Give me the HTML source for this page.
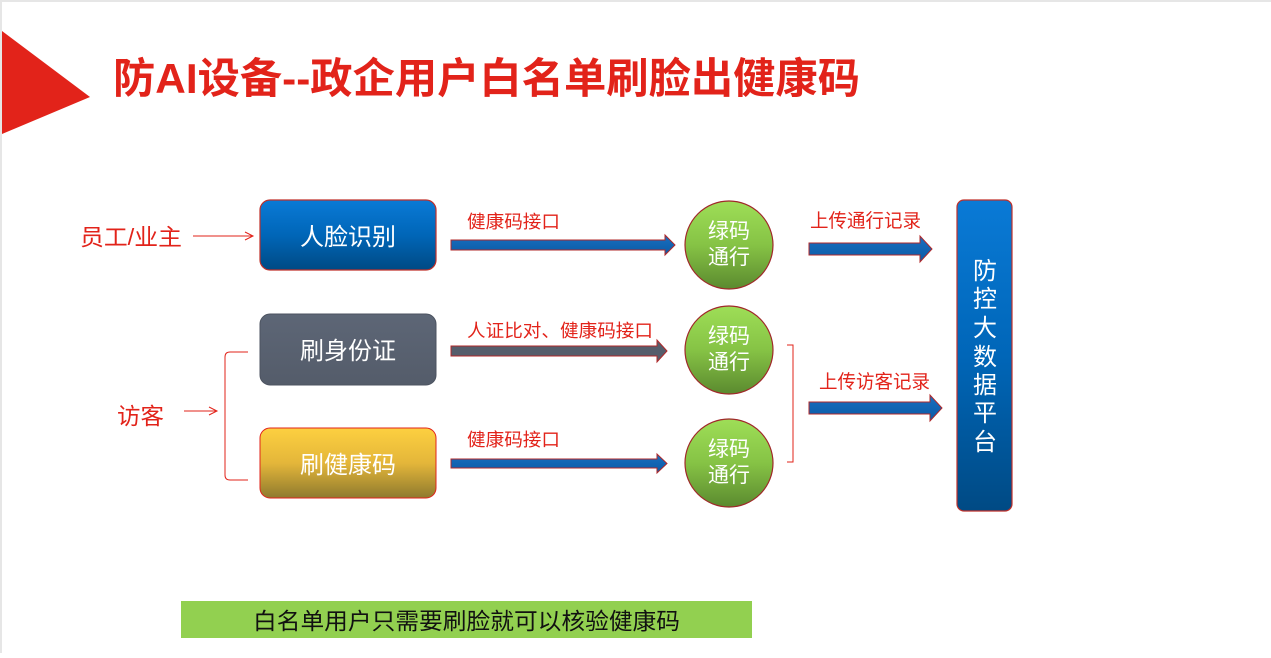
<!DOCTYPE html>
<html><head><meta charset="utf-8"><style>
html,body{margin:0;padding:0;background:#fff;}
svg text{font-family:"Liberation Sans","Noto Sans CJK SC",sans-serif;}
</style></head><body>
<svg width="1271" height="653" viewBox="0 0 1271 653" xmlns="http://www.w3.org/2000/svg">
<defs>
<linearGradient id="blue" x1="0" y1="0" x2="0" y2="1"><stop offset="0" stop-color="#0a7ad6"/><stop offset="0.5" stop-color="#0066b8"/><stop offset="1" stop-color="#004a84"/></linearGradient>
<linearGradient id="gray" x1="0" y1="0" x2="0" y2="1"><stop offset="0" stop-color="#5d6676"/><stop offset="1" stop-color="#545c6a"/></linearGradient>
<linearGradient id="yel" x1="0" y1="0" x2="0" y2="1"><stop offset="0" stop-color="#fdd040"/><stop offset="0.5" stop-color="#e4b63a"/><stop offset="1" stop-color="#8e7a2e"/></linearGradient>
<linearGradient id="grn" x1="0" y1="0" x2="0" y2="1"><stop offset="0" stop-color="#9ede57"/><stop offset="0.5" stop-color="#86c345"/><stop offset="1" stop-color="#5b8a2f"/></linearGradient>
<linearGradient id="arr" x1="0" y1="0" x2="0" y2="1"><stop offset="0" stop-color="#1a6fc0"/><stop offset="1" stop-color="#0b5aa5"/></linearGradient>
</defs>
<rect x="0" y="0" width="1271" height="2" fill="#e6e6e6"/>
<rect x="0" y="0" width="2" height="653" fill="#e6e6e6"/>
<polygon points="2,31 90,97 2,134" fill="#e2231a"/>
<text x="113" y="93" font-size="42" font-weight="bold" fill="#e2231a" textLength="747" lengthAdjust="spacingAndGlyphs">防AI设备--政企用户白名单刷脸出健康码</text>

<text x="80" y="245" font-size="23" fill="#e2231a" textLength="102" lengthAdjust="spacingAndGlyphs">员工/业主</text>
<line x1="193" y1="236" x2="252" y2="236" stroke="#e2231a" stroke-width="1"/>
<polyline points="245,232 253,236 245,240" fill="none" stroke="#e2231a" stroke-width="1"/>
<text x="117" y="424" font-size="23" fill="#e2231a" textLength="47" lengthAdjust="spacingAndGlyphs">访客</text>
<line x1="184" y1="411" x2="216" y2="411" stroke="#e2231a" stroke-width="1"/>
<polyline points="209,407 217,411 209,415" fill="none" stroke="#e2231a" stroke-width="1"/>
<path d="M248,352 L230,352 Q225,352 225,357 L225,475 Q225,480 230,480 L248,480" fill="none" stroke="#e2231a" stroke-width="1"/>

<rect x="260" y="200" width="176" height="70" rx="10" fill="url(#blue)" stroke="#c0302a" stroke-width="1.2"/>
<text x="300" y="245" font-size="24" fill="#fff" textLength="96" lengthAdjust="spacingAndGlyphs">人脸识别</text>
<rect x="260" y="314" width="176" height="71" rx="10" fill="url(#gray)" stroke="#4c5360" stroke-width="1"/>
<text x="300" y="359" font-size="24" fill="#fff" textLength="96" lengthAdjust="spacingAndGlyphs">刷身份证</text>
<rect x="260" y="428" width="176" height="70" rx="10" fill="url(#yel)" stroke="#e2231a" stroke-width="1"/>
<text x="300" y="473" font-size="24" fill="#fff" textLength="96" lengthAdjust="spacingAndGlyphs">刷健康码</text>

<text x="467" y="228" font-size="18" fill="#e2231a" textLength="93" lengthAdjust="spacingAndGlyphs">健康码接口</text>
<polygon points="451,240 665,240 665,235 675,245 665,255 665,250 451,250" fill="url(#arr)" stroke="#b0282a" stroke-width="1"/>
<text x="467" y="337" font-size="18" fill="#e2231a" textLength="186" lengthAdjust="spacingAndGlyphs">人证比对、健康码接口</text>
<polygon points="451,346 657,346 657,340 667,351 657,362 657,356 451,356" fill="#555d6b" stroke="#b0282a" stroke-width="1"/>
<text x="467" y="446" font-size="18" fill="#e2231a" textLength="93" lengthAdjust="spacingAndGlyphs">健康码接口</text>
<polygon points="451,459 657,459 657,454 667,463.5 657,473 657,468 451,468" fill="url(#arr)" stroke="#b0282a" stroke-width="1"/>

<g font-size="21" fill="#fff" text-anchor="middle">
<circle cx="729" cy="245" r="44" fill="url(#grn)" stroke="#a0282a" stroke-width="1.2"/>
<text x="729" y="238">绿码</text><text x="729" y="264">通行</text>
<circle cx="729" cy="350" r="44" fill="url(#grn)" stroke="#a0282a" stroke-width="1.2"/>
<text x="729" y="343">绿码</text><text x="729" y="369">通行</text>
<circle cx="729" cy="463" r="44" fill="url(#grn)" stroke="#a0282a" stroke-width="1.2"/>
<text x="729" y="456">绿码</text><text x="729" y="482">通行</text>
</g>

<polyline points="787,345 793,345 793,462 787,462" fill="none" stroke="#e2231a" stroke-width="1"/>

<text x="810" y="227" font-size="19" fill="#e2231a" textLength="111" lengthAdjust="spacingAndGlyphs">上传通行记录</text>
<polygon points="809,243 920,243 920,236 932,249 920,262 920,255 809,255" fill="url(#arr)" stroke="#b0282a" stroke-width="1"/>
<text x="819" y="388" font-size="19" fill="#e2231a" textLength="111" lengthAdjust="spacingAndGlyphs">上传访客记录</text>
<polygon points="809,402 930,402 930,395 942,408 930,421 930,414 809,414" fill="url(#arr)" stroke="#b0282a" stroke-width="1"/>

<rect x="957" y="200" width="55" height="311" rx="7" fill="url(#blue)" stroke="#c0302a" stroke-width="1.2"/>
<g font-size="24" fill="#fff" text-anchor="middle">
<text x="985" y="279">防</text><text x="985" y="307">控</text><text x="985" y="336">大</text><text x="985" y="365">数</text><text x="985" y="393">据</text><text x="985" y="421">平</text><text x="985" y="450">台</text>
</g>

<rect x="181" y="601" width="571" height="37" fill="#92d050"/>
<text x="253" y="629" font-size="23" fill="#111" textLength="427" lengthAdjust="spacingAndGlyphs">白名单用户只需要刷脸就可以核验健康码</text>
</svg>
</body></html>
